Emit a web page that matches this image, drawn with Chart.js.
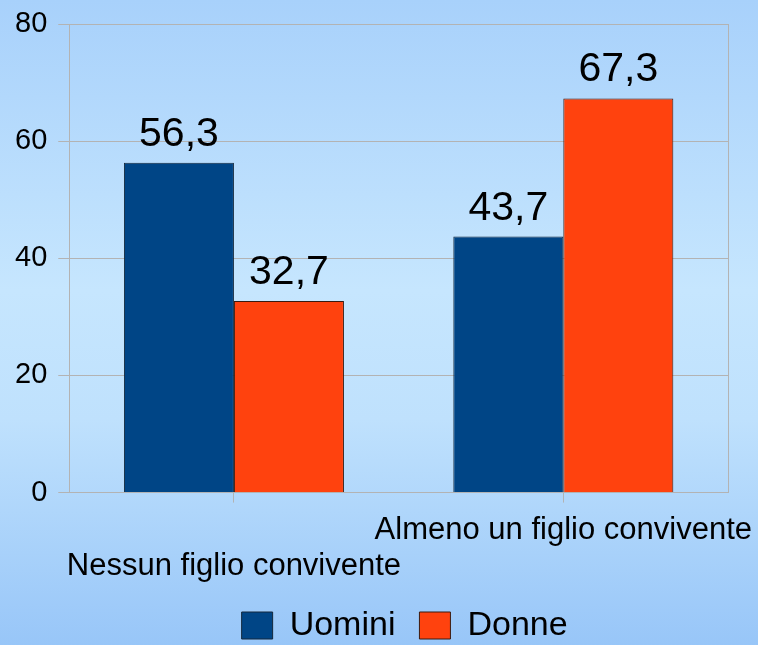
<!DOCTYPE html>
<html>
<head>
<meta charset="utf-8">
<script src="https://cdn.jsdelivr.net/npm/chart.js@4/dist/chart.umd.min.js"></script>
<style>
  html, body { margin: 0; padding: 0; }
  body {
    width: 758px;
    height: 645px;
    overflow: hidden;
    background: linear-gradient(to bottom, #a8d1fb 0%, #c6e6fe 45%, #bfe1fd 65%, #98c6f8 100%);
  }
  #wrap { position: relative; width: 758px; height: 645px; }
</style>
</head>
<body>
<div id="wrap"><canvas id="myChart"></canvas></div>
<script>
const categories = ['Nessun figlio convivente', 'Almeno un figlio convivente'];
const seriesNames = ['Uomini', 'Donne'];
const uomini = [56.3, 43.7];
const donne = [32.7, 67.3];
const yMin = 0, yMax = 80, yStep = 20;

const gridColor = '#b3b3b3';
const fontFamily = '"Liberation Sans", Arial, sans-serif';

// numbers above the bars, italian decimal comma
const valueLabels = {
    id: 'valueLabels',
    afterDatasetsDraw(chart) {
        const ctx = chart.ctx;
        ctx.save();
        ctx.font = '41px ' + fontFamily;
        ctx.fillStyle = '#000';
        ctx.textAlign = 'center';
        ctx.textBaseline = 'alphabetic';
        chart.data.datasets.forEach((ds, i) => {
            chart.getDatasetMeta(i).data.forEach((bar, j) => {
                const txt = ds.data[j].toFixed(1).replace('.', ',');
                ctx.fillText(txt, bar.x, bar.y - 17);
            });
        });
        ctx.restore();
    }
};

// right edge of the plot frame
const frameRight = {
    id: 'frameRight',
    beforeDatasetsDraw(chart) {
        const {ctx, chartArea} = chart;
        ctx.save();
        ctx.strokeStyle = gridColor;
        ctx.lineWidth = 1;
        ctx.beginPath();
        ctx.moveTo(Math.round(chartArea.right) + 0.5, chartArea.top);
        ctx.lineTo(Math.round(chartArea.right) + 0.5, chartArea.bottom);
        ctx.stroke();
        ctx.restore();
    }
};

// the legend in the original sits a little right of the plot centre
const legendShift = {
    id: 'legendShift',
    afterLayout(chart) {
        chart.legend.left += 6;
        chart.legend.right += 6;
    }
};

const ctx = document.getElementById('myChart');
new Chart(ctx, {
    type: 'bar',
    data: {
        labels: categories,
        datasets: [{
            label: seriesNames[0],
            data: uomini,
            backgroundColor: '#004586',
            borderColor: '#14283c',
            borderWidth: 1
        }, {
            label: seriesNames[1],
            data: donne,
            backgroundColor: '#ff420e',
            borderColor: '#3a1a10',
            borderWidth: 1
        }]
    },
    options: {
        responsive: true,
        maintainAspectRatio: false,
        animation: false,
        layout: {
            padding: { left: 4, right: 30, top: 24, bottom: -7.5 }
        },
        datasets: {
            bar: { categoryPercentage: 0.668, barPercentage: 1 }
        },
        plugins: {
            tooltip: { enabled: false },
            legend: {
                position: 'bottom',
                fullSize: false,
                labels: {
                    color: '#000',
                    font: { family: fontFamily, size: 34 },
                    boxWidth: 31,
                    boxHeight: 27,
                    padding: 24
                }
            }
        },
        scales: {
            x: {
                grid: {
                    offset: false,
                    drawOnChartArea: false,
                    drawTicks: true,
                    tickLength: 10,
                    color: gridColor
                },
                border: { display: true, color: gridColor },
                ticks: {
                    color: '#000',
                    padding: 10,
                    maxRotation: 0,
                    autoSkip: false,
                    font: { family: fontFamily, size: 31, lineHeight: 1.16 },
                    callback: function(value, index) {
                        const label = this.getLabelForValue(value);
                        return index % 2 === 0 ? ['', label] : label;
                    }
                },
                afterFit: function(scale) {
                    // long labels may run past the plot edges like in the original
                    scale.paddingLeft = 0;
                    scale.paddingRight = 0;
                    scale.height -= 10;
                }
            },
            y: {
                min: yMin,
                max: yMax,
                grid: {
                    color: gridColor,
                    tickLength: 11
                },
                border: { display: true, color: gridColor },
                ticks: {
                    stepSize: yStep,
                    color: '#000',
                    padding: 11,
                    font: { family: fontFamily, size: 29 }
                },
                afterFit: function(scale) {
                    scale.paddingTop = 0;
                }
            }
        }
    },
    plugins: [valueLabels, frameRight, legendShift]
});
</script>
</body>
</html>
